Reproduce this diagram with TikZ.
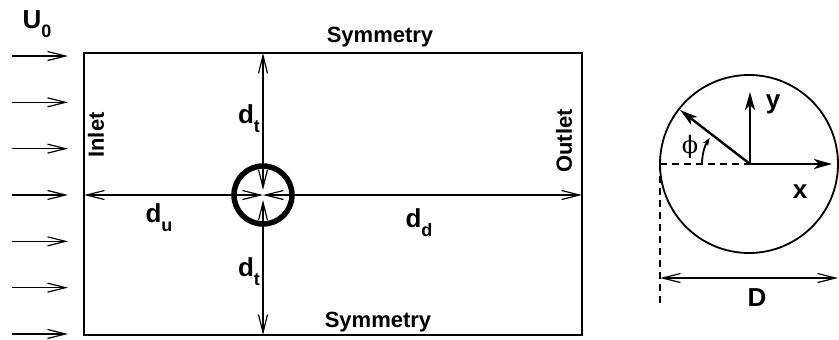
\documentclass[tikz,border=0pt]{standalone}
\usepackage{fontspec}
\setmainfont{Liberation Sans}
\newfontfamily\phifont{DejaVu Serif}
\usetikzlibrary{arrows.meta}
\newcommand{\sub}[1]{\raisebox{-9pt}{\fontsize{18}{18}\selectfont #1}}

\begin{document}
\begin{tikzpicture}[x=1pt,y=-1pt,
  >={Straight Barb[length=18pt,width=9pt]},
  wall/.style={line width=1.6pt},
  dimline/.style={line width=1.2pt,<->},
  flow/.style={line width=1.2pt,->},
  axis/.style={line width=2.4pt,arrows={-Stealth[length=18pt,width=10pt,inset=5pt]}},
  guide/.style={line width=1.4pt,dash pattern=on 7pt off 5pt},
  bclabel/.style={font={\bfseries\fontsize{22}{22}\selectfont},inner sep=0pt},
  biglabel/.style={font={\bfseries\fontsize{26}{26}\selectfont},inner sep=0pt}]
\useasboundingbox (0,0) rectangle (839,340);

% domain
\coordinate (nw) at (84,53);
\coordinate (se) at (582,335);
\coordinate (cyl) at (263,195);
\coordinate (inl) at (84,195);
\coordinate (outl) at (582,195);
\coordinate (topw) at (263,53);
\coordinate (botw) at (263,335);
\draw[wall] (nw) rectangle (se);
\draw[line width=5.5pt] (cyl) circle[radius=29];
\draw[dimline] (inl) -- (cyl);
\draw[dimline] (cyl) -- (outl);
\draw[dimline] (topw) -- ([yshift=5pt]cyl);
\draw[dimline] ([yshift=-5pt]cyl) -- (botw);
\foreach \i in {0,...,6}{
  \coordinate (fs\i) at (12,56+46.33*\i);
  \coordinate (fe\i) at (68,56+46.33*\i);
  \draw[flow] (fs\i) -- (fe\i);
}

\node[biglabel] (uzero) at (37,24) {U\sub{0}};
\node[bclabel] (symtop) at (380,37) {Symmetry};
\node[bclabel] (symbot) at (378,322) {Symmetry};
\node[bclabel,rotate=90] (inlet) at (96,135) {Inlet};
\node[bclabel,rotate=90] (outlet) at (564,141) {Outlet};
\node[biglabel] (dtop) at (249,119) {d\sub{t}};
\node[biglabel] (dbot) at (249,272) {d\sub{t}};
\node[biglabel] (dup) at (159,218) {d\sub{u}};
\node[biglabel] (ddown) at (419,223) {d\sub{d}};

% cylinder detail
\coordinate (orig) at (750,164);
\coordinate (lft) at (660,164);
\coordinate (dlow) at (660,307);
\coordinate (xend) at (832,164);
\coordinate (yend) at (750,92);
\coordinate (rend) at (680,110);
\coordinate (phis) at (702,164);
\coordinate (dl) at (660,278);
\coordinate (dr) at (838,278);
\draw[line width=1.8pt] (749,164) circle[radius=89];
\draw[guide] (lft) -- (orig);
\draw[guide] (lft) -- (dlow);
\draw[axis] (orig) -- (xend);
\draw[axis] (orig) -- (yend);
\draw[axis] (orig) -- (rend);
\draw[line width=1.8pt,arrows={-Stealth[length=8pt,width=6pt]}] (phis) arc[start angle=180,end angle=147,radius=48pt];
\draw[dimline] (dl) -- (dr);

\node[inner sep=0pt,font={\phifont\fontsize{24}{24}\selectfont}] (phi) at (690,147) {ϕ};
\node[biglabel] (ylab) at (773,104) {y};
\node[biglabel] (xlab) at (800,192) {x};
\node[biglabel] (dlab) at (757,298) {D};
\end{tikzpicture}
\end{document}
